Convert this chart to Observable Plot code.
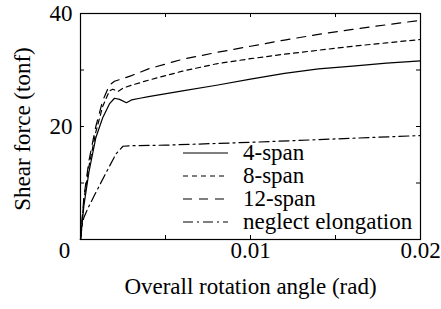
<!DOCTYPE html>
<html>
<head>
<meta charset="utf-8">
<script src="https://cdn.jsdelivr.net/npm/d3@7"></script>
<script src="https://cdn.jsdelivr.net/npm/@observablehq/plot@0.6"></script>
<style>
  html, body { margin: 0; padding: 0; background: #fff; }
  #wrap { position: relative; width: 441px; height: 309px; }
  #legend { position: absolute; left: 183px; top: 141px; }
  .row { display: flex; align-items: center; height: 23px; }
  .row svg { width: 45px; height: 10px; margin-right: 15px; flex: none; }
  .row span { font-size: 23px; line-height: 23px; color: #000; white-space: nowrap; }
  #ylabel { position: absolute; left: 22px; top: 129px; font-size: 23px; line-height: 23px; white-space: nowrap; color: #000;
            transform: translate(-50%, -50%) rotate(-90deg); transform-origin: center center; }
</style>
</head>
<body>
<div id="wrap"></div>
<script>
// Series (x: overall rotation angle in rad, y: shear force in tonf)
const span4 = [[0,0],[0.0002,6],[0.0005,12],[0.0009,18],[0.0013,21.5],[0.0017,24],[0.0020,25],[0.0023,24.8],[0.0027,24.2],[0.0030,24.7],[0.0035,25.0],[0.004,25.3],[0.006,26.3],[0.008,27.3],[0.010,28.4],[0.012,29.4],[0.014,30.2],[0.016,30.7],[0.018,31.2],[0.020,31.6]];
const span8 = [[0,0],[0.0002,7],[0.0005,13],[0.0009,19],[0.0013,23.5],[0.0017,26.3],[0.0019,26.6],[0.0022,26.2],[0.0025,26.8],[0.003,27.3],[0.004,28.2],[0.006,29.8],[0.008,31.1],[0.010,32.0],[0.012,32.8],[0.014,33.5],[0.016,34.2],[0.018,34.8],[0.020,35.4]];
const span12 = [[0,0],[0.0002,7.5],[0.0005,14],[0.0009,20],[0.0013,24.5],[0.0017,27.3],[0.0020,28.0],[0.0023,28.3],[0.003,29.0],[0.004,30.2],[0.006,31.9],[0.008,33.1],[0.010,34.2],[0.012,35.3],[0.014,36.3],[0.016,37.2],[0.018,38.0],[0.020,38.8]];
const neglect = [[0,0],[0.0001,2.6],[0.0002,3.9],[0.0004,5.3],[0.0009,8.3],[0.0015,11.8],[0.0021,15.2],[0.0025,16.5],[0.003,16.6],[0.005,16.7],[0.010,17.2],[0.015,17.8],[0.020,18.4]];

const seriesNames = ["4-span", "8-span", "12-span", "neglect elongation"];
const seriesData = [span4, span8, span12, neglect];
const dashes = [null, "5,4", "9,7", "10,4,2,4"];

const xDomain = [0, 0.02];
const yDomain = [0, 40];
const xMinorTicks = [0.005, 0.01, 0.015];
const yMinorTicks = [10, 20, 30];
const xTickLabels = [0.01, 0.02];
const xZeroLabel = [0];
const yTickLabels = [20, 40];
const xLabel = "Overall rotation angle (rad)";
const yLabel = "Shear force (tonf)";

const font = "'Liberation Serif', 'Times New Roman', serif";

const lineMarks = seriesData.map((d, i) => Plot.line(d, {
  x: p => p[0], y: p => p[1], stroke: "#000", strokeWidth: 1.2,
  strokeDasharray: dashes[i] || undefined
}));

const chart = Plot.plot({
  width: 441,
  height: 309,
  marginTop: 13,
  marginRight: 21,
  marginBottom: 70,
  marginLeft: 80,
  style: { fontFamily: font, fontSize: "23px", background: "#fff", color: "#000" },
  x: { domain: xDomain, axis: null },
  y: { domain: yDomain },
  marks: [
    ...lineMarks,
    Plot.frame({ stroke: "#000", strokeWidth: 1.2 }),
    Plot.ruleX(xMinorTicks, { x: d => d, insetTop: 222, stroke: "#000" }),
    Plot.ruleX(xMinorTicks, { x: d => d, insetBottom: 222, stroke: "#000" }),
    Plot.ruleY(yMinorTicks, { y: d => d, insetRight: 336, stroke: "#000" }),
    Plot.ruleY(yMinorTicks, { y: d => d, insetLeft: 336, stroke: "#000" }),
    Plot.axisY(yTickLabels, { tickSize: 0, tickPadding: 8, fontSize: 23, label: null }),
    Plot.text(xTickLabels, { x: d => d, frameAnchor: "bottom", dy: 18, text: d => String(d), fontSize: 23 }),
    Plot.text(xZeroLabel, { x: d => d, frameAnchor: "bottom", dy: 18, dx: -16, text: d => String(d), fontSize: 23 }),
    Plot.text([xLabel], { frameAnchor: "bottom", dy: 54, text: d => d, fontSize: 23 })
  ]
});

const wrap = document.getElementById("wrap");
wrap.appendChild(chart);

const yl = document.createElement("div");
yl.id = "ylabel";
yl.style.fontFamily = font;
yl.textContent = yLabel;
wrap.appendChild(yl);

const legend = document.createElement("div");
legend.id = "legend";
legend.style.fontFamily = font;
seriesNames.forEach((name, i) => {
  const row = document.createElement("div");
  row.className = "row";
  const dash = dashes[i] ? ` stroke-dasharray="${dashes[i]}"` : "";
  row.innerHTML = `<svg viewBox="0 0 45 10"><line x1="0" y1="5" x2="45" y2="5" stroke="#000" stroke-width="1.2"${dash}/></svg>`;
  const s = document.createElement("span");
  s.style.fontFamily = font;
  s.textContent = name;
  row.appendChild(s);
  legend.appendChild(row);
});
wrap.appendChild(legend);
</script>
</body>
</html>
